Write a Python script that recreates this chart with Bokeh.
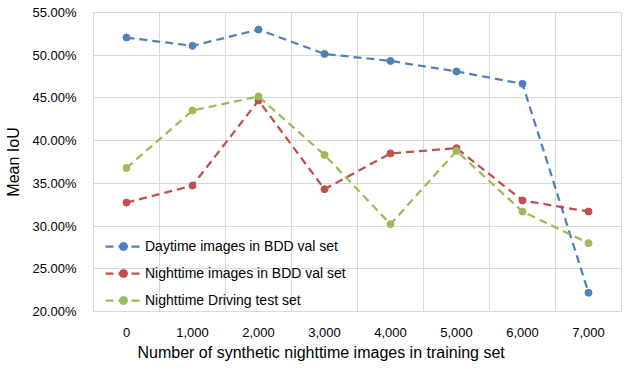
from bokeh.plotting import figure
from bokeh.models import FixedTicker, NumeralTickFormatter, Legend, LegendItem, Title, Range1d
from bokeh.embed import file_html
from bokeh.resources import INLINE

x_values = [0, 1000, 2000, 3000, 4000, 5000, 6000, 7000]
day_bdd = [0.5207, 0.5110, 0.5300, 0.5015, 0.4933, 0.4810, 0.4665, 0.2220]
night_bdd = [0.3275, 0.3474, 0.4470, 0.3432, 0.3850, 0.3912, 0.3300, 0.3170]
night_driving = [0.3680, 0.4353, 0.4517, 0.3833, 0.3022, 0.3880, 0.3170, 0.2800]
series_names = ["Daytime images in BDD val set", "Nighttime images in BDD val set", "Nighttime Driving test set"]
colors = ["#4F81BD", "#C0504D", "#9BBB59"]
y_ticks = [0.20, 0.25, 0.30, 0.35, 0.40, 0.45, 0.50, 0.55]

FONT = "Liberation Sans"

p = figure(width=637, height=384, output_backend="svg", toolbar_location=None,
           x_range=Range1d(-500, 7500), y_range=Range1d(0.20, 0.55),
           min_border_left=93, min_border_right=16, min_border_top=12, min_border_bottom=73)
p.background_fill_color = "white"
p.border_fill_color = "white"
p.outline_line_color = "#D9D9D9"
p.outline_line_width = 1

p.xaxis.ticker = FixedTicker(ticks=x_values)
p.xaxis.formatter = NumeralTickFormatter(format="0,0")
p.yaxis.ticker = FixedTicker(ticks=y_ticks)
p.yaxis.formatter = NumeralTickFormatter(format="0.00%")
p.xgrid.ticker = FixedTicker(ticks=[v - 500 for v in x_values] + [x_values[-1] + 500])
p.ygrid.ticker = FixedTicker(ticks=y_ticks)
for g in (p.xgrid, p.ygrid):
    g.grid_line_color = "#D9D9D9"
    g.grid_line_width = 1

for ax in (p.xaxis, p.yaxis):
    ax.axis_line_color = None
    ax.major_tick_line_color = None
    ax.minor_tick_line_color = None
    ax.major_tick_out = 0
    ax.major_tick_in = 0
    ax.major_label_text_font = FONT
    ax.major_label_text_font_size = "13px"
    ax.major_label_text_color = "#000000"

p.xaxis.major_label_standoff = 16
p.yaxis.major_label_standoff = 17

p.yaxis.axis_label = "Mean IoU"
p.yaxis.axis_label_text_font = FONT
p.yaxis.axis_label_text_font_size = "16px"
p.yaxis.axis_label_text_font_style = "normal"
p.yaxis.axis_label_text_color = "#000000"
p.yaxis.axis_label_standoff = 7

xtitle = Title(text="Number of synthetic nighttime images in training set", align="left", offset=44,
               text_font=FONT, text_font_size="16px", text_font_style="normal", text_color="#000000",
               standoff=4)
p.add_layout(xtitle, "below")

items = []
for name, ys, c in zip(series_names, [day_bdd, night_bdd, night_driving], colors):
    r1 = p.line(x_values, ys, line_color=c, line_width=2.25, line_dash="8 5")
    r2 = p.scatter(x_values, ys, size=7, fill_color=c, line_color=c, marker="circle")
    items.append(LegendItem(label=name, renderers=[r1, r2]))

legend = Legend(items=items, location=(12, 1), orientation="vertical",
                label_text_font=FONT, label_text_font_size="14px", label_text_color="#000000",
                glyph_width=36, glyph_height=20, label_height=20, label_standoff=4,
                spacing=7, padding=0, margin=0,
                background_fill_alpha=0, border_line_alpha=0)
p.add_layout(legend, "center")

open("out.html", "w").write(file_html(p, INLINE))
